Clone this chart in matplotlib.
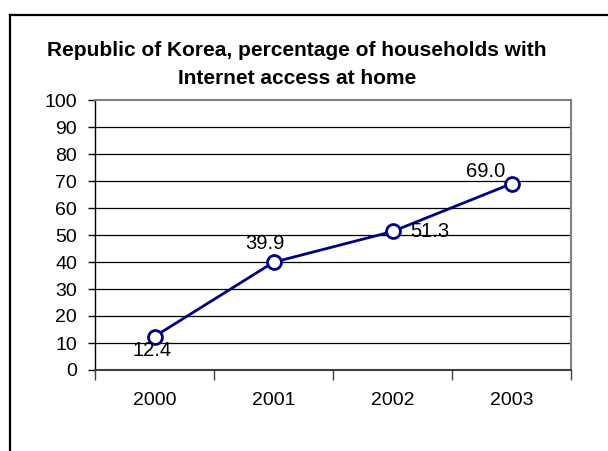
import matplotlib
matplotlib.use("Agg")
import matplotlib.pyplot as plt
from matplotlib.lines import Line2D

years = ["2000", "2001", "2002", "2003"]
values = [12.4, 39.9, 51.3, 69.0]
labels = ["12.4", "39.9", "51.3", "69.0"]
yticks = list(range(0, 101, 10))

plt.rcParams['font.family'] = ['Liberation Sans', 'DejaVu Sans']

W, H = 608, 451
fig = plt.figure(figsize=(W / 100, H / 100), dpi=100)
fig.patch.set_facecolor("white")

# outer chart frame (left and top edges visible)
fig.add_artist(Line2D([9.5 / W, 9.5 / W], [0, 1 - 14.5 / H], transform=fig.transFigure,
                      color="black", lw=1.6))
fig.add_artist(Line2D([9.5 / W, 1], [1 - 14.5 / H, 1 - 14.5 / H], transform=fig.transFigure,
                      color="black", lw=1.6))

left, right, top, bottom = 95, 571, 100, 370
ax = fig.add_axes([left / W, 1 - bottom / H, (right - left) / W, (bottom - top) / H])

x = list(range(len(years)))
ax.set_xlim(-0.5, len(years) - 0.5)
ax.set_ylim(0, 100)

for v in yticks[1:-1]:
    ax.axhline(v, color="black", lw=0.9, zorder=1)

ax.plot(x, values, color="#000080", lw=2, marker="o", markersize=10,
        markerfacecolor="white", markeredgecolor="#000080", markeredgewidth=2, zorder=3,
        clip_on=False)

offsets = [(-2, -14, "center", "center"), (-9, 19, "center", "center"),
           (18, 0, "left", "center"), (-26, 12, "center", "center")]
for xi, v, lab, (dx, dy, ha, va) in zip(x, values, labels, offsets):
    ax.annotate(lab, (xi, v), xytext=(dx, dy), textcoords="offset pixels",
                ha=ha, va=va, fontsize=14.5, color="black", zorder=4)

ax.set_yticks(yticks)
ax.set_yticklabels([str(t) for t in yticks], fontsize=14)
ax.tick_params(axis="y", direction="out", length=5, width=1, pad=8, colors="black")

ax.set_xticks([i - 0.5 for i in range(len(years) + 1)])
ax.set_xticklabels([])
ax.set_xticks(x, minor=True)
ax.set_xticklabels(years, minor=True, fontsize=14)
ax.tick_params(axis="x", which="major", direction="out", length=7, width=1, color="#404040")
ax.tick_params(axis="x", which="minor", length=0, pad=16)

ax.spines["left"].set_color("black")
ax.spines["left"].set_linewidth(1)
ax.spines["bottom"].set_color("#404040")
ax.spines["bottom"].set_linewidth(1.5)
ax.spines["top"].set_color("#808080")
ax.spines["top"].set_linewidth(1.5)
ax.spines["right"].set_color("#808080")
ax.spines["right"].set_linewidth(1.5)

fig.text(297 / W, 1 - 50 / H, "Republic of Korea, percentage of households with",
         ha="center", va="center", fontsize=15, fontweight="bold")
fig.text(297 / W, 1 - 78 / H, "Internet access at home",
         ha="center", va="center", fontsize=15, fontweight="bold")

fig.savefig("out.png", dpi=100, facecolor="white")
